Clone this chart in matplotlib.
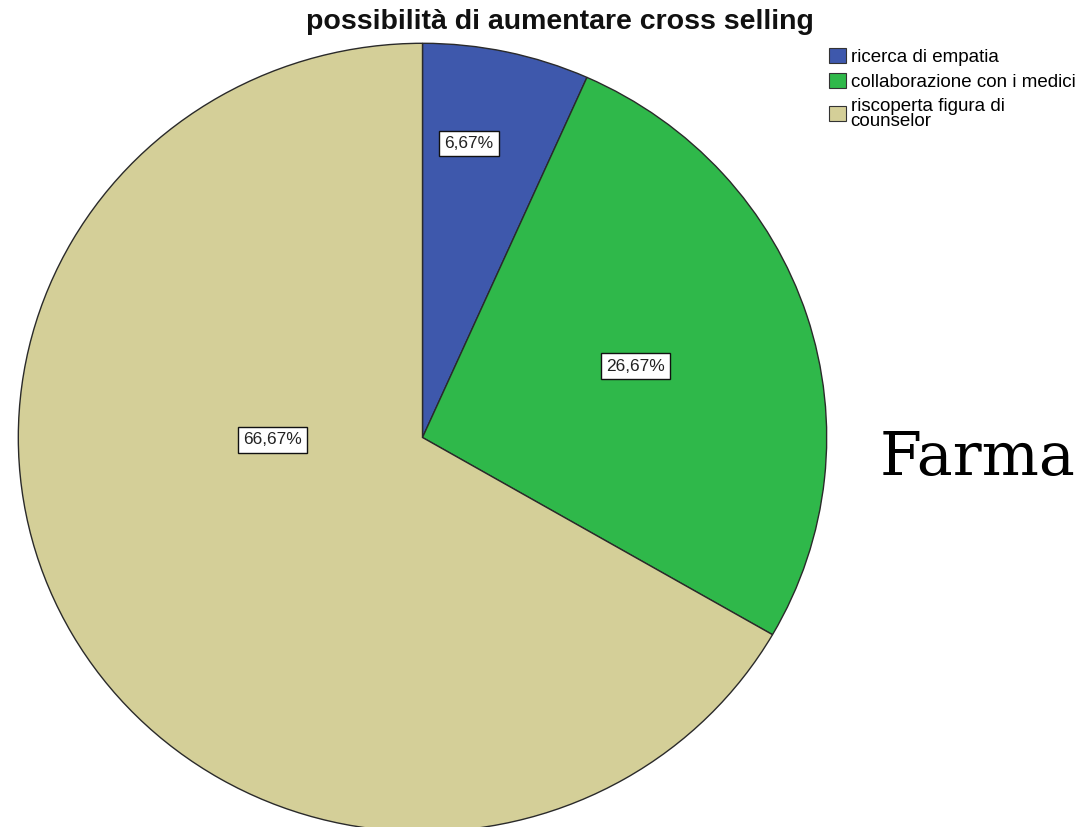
import matplotlib
matplotlib.use("Agg")
import matplotlib.pyplot as plt
from matplotlib.patches import Patch

# Risposte: possibilità di aumentare cross selling
categorie = ["ricerca di empatia", "collaborazione con i medici", "riscoperta figura di\ncounselor"]
percentuali = [6.67, 26.67, 66.67]
colori = ["#3E58AC", "#2FB84A", "#D4CF98"]
# posizione delle etichette (coordinate della torta, raggio = 1)
pos_etichette = [(0.115, 0.746), (0.527, 0.181), (-0.372, -0.006)]

W, H = 1082, 827
fig = plt.figure(figsize=(W / 100, H / 100), dpi=100)

# la torta è leggermente schiacciata in verticale
cx, cy, rx, ry = 422.5, 437.5, 405, 395
ax = fig.add_axes([(cx - rx) / W, (H - cy - ry) / H, 2 * rx / W, 2 * ry / H])
ax.pie(percentuali, colors=colori, startangle=90, counterclock=False, radius=1,
       wedgeprops=dict(edgecolor="#2a2a2a", linewidth=1.0))
ax.set_xlim(-1.002, 1.002)
ax.set_ylim(-1.002, 1.002)
ax.set_aspect("auto")
ax.axis("off")

for val, (x, y) in zip(percentuali, pos_etichette):
    testo = f"{val:.2f}%".replace(".", ",")
    ax.text(x, y, testo, ha="center", va="center", fontsize=12.5,
            family="Liberation Sans", color="#222222",
            bbox=dict(boxstyle="square,pad=0.3", facecolor="white",
                      edgecolor="#111111", linewidth=1.0))

fig.text(560 / W, 1 - 22 / H, "possibilità di aumentare cross selling",
         ha="center", va="center", fontsize=20.5, fontweight="bold",
         family="Liberation Sans", color="#111111")

handles = [Patch(facecolor=c, edgecolor="#333333", linewidth=0.8) for c in colori]
leg = fig.legend(handles, categorie, loc="upper left",
                 bbox_to_anchor=(829 / W, 1 - 48 / H), frameon=False,
                 prop=dict(family="Liberation Sans", size=13.5),
                 handlelength=0.9, handleheight=0.85, handletextpad=0.25,
                 labelspacing=0.38, borderpad=0, borderaxespad=0)
for t in leg.get_texts():
    t.set_linespacing(0.8)

fig.text(880 / W, 1 - 458 / H, "Farma", ha="left", va="center",
         fontsize=43.5, family="DejaVu Serif", color="black")

fig.savefig("out.png", dpi=100, facecolor="white")
